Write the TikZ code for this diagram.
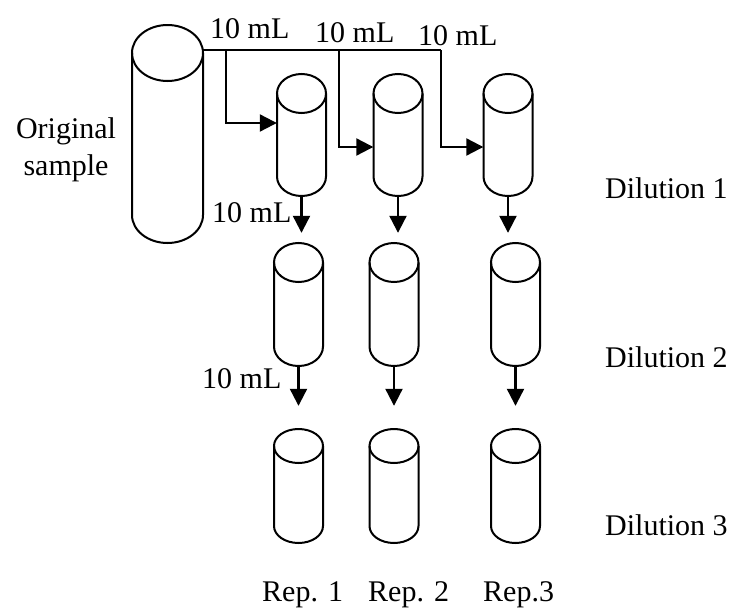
\documentclass[tikz,border=0pt]{standalone}
\usepackage{fontspec}
\setmainfont{Liberation Serif}
\usetikzlibrary{arrows.meta}
\tikzset{
  tubeline/.style={line width=2pt},
  conn/.style={line width=2.2pt},
  arr/.style={conn,-{Triangle[length=17pt,width=17pt]}},
  lbl/.style={inner sep=0pt,font=\fontsize{30}{37}\selectfont},
}
% name, cx, ytop, ybot, rx, ry
\newcommand\tube[6]{%
  \node[inner sep=0pt,minimum width={2*#5 pt},minimum height={(#4-#3)*1pt}] (#1) at (#2,{(#3+#4)/2}) {};
  \draw[tubeline] (#2,#3+#6) ellipse [x radius=#5pt, y radius=#6pt];
  \draw[tubeline] (#2-#5,#3+#6) -- (#2-#5,#4-#6)
    arc[start angle=180,end angle=360,x radius=#5pt,y radius=#6pt] -- (#2+#5,#3+#6);
}
\begin{document}
\begin{tikzpicture}[x=1pt,y=-1pt]
\useasboundingbox (0,0) rectangle (737,608);
% original sample
\tube{big}{167.5}{25}{243}{35.5}{28}
% dilution 1
\tube{t11}{301.5}{74}{196}{24.5}{19.5}
\tube{t12}{398}{74}{196}{24.5}{19.5}
\tube{t13}{508}{74}{196}{24.5}{19.5}
% dilution 2
\tube{t21}{298.5}{243}{366}{24.5}{19.5}
\tube{t22}{394}{243}{366}{24.5}{19.5}
\tube{t23}{515.5}{243}{366}{24.5}{19.5}
% dilution 3
\tube{t31}{298.5}{429}{543}{24.5}{17}
\tube{t32}{394}{429}{543}{24.5}{17}
\tube{t33}{515.5}{429}{543}{24.5}{17}
% distribution lines
\coordinate (src) at (big.east |- 0,50);
\coordinate (b1) at (226,50);
\coordinate (b2) at (339,50);
\coordinate (b3) at (441,50);
\draw[conn] (src) -- (b3);
\draw[arr] (b1) |- (t11.west |- 0,123);
\draw[arr] (b2) |- (t12.west |- 0,147);
\draw[arr] (b3) |- (t13.west |- 0,147);
% serial dilution arrows
\draw[arr,shorten >=10pt] (t11.south) -- (t11.south |- t21.north);
\draw[arr,shorten >=10pt] (t12.south) -- (t12.south |- t22.north);
\draw[arr,shorten >=10pt] (t13.south) -- (t13.south |- t23.north);
\draw[arr,shorten >=23pt] (t21.south) -- (t21.south |- t31.north);
\draw[arr,shorten >=23pt] (t22.south) -- (t22.south |- t32.north);
\draw[arr,shorten >=23pt] (t23.south) -- (t23.south |- t33.north);
% labels
\node[lbl,anchor=base west] (v1) at (210,38) {10 mL};
\node[lbl,anchor=base west] (v2) at (315,42) {10 mL};
\node[lbl,anchor=base west] (v3) at (418,45) {10 mL};
\node[lbl,anchor=base west] (v4) at (212,222) {10 mL};
\node[lbl,anchor=base west] (v5) at (202,388) {10 mL};
\node[lbl,align=center] (orig) at (66,150) {Original\\sample};
\node[lbl,anchor=base west] (d1) at (605,198) {Dilution 1};
\node[lbl,anchor=base west] (d2) at (605,367) {Dilution 2};
\node[lbl,anchor=base west] (d3) at (605,535) {Dilution 3};
\node[lbl,anchor=base west] (r1) at (262,601) {Rep. 1};
\node[lbl,anchor=base west] (r2) at (368,601) {Rep. 2};
\node[lbl,anchor=base west] (r3) at (483,601) {Rep.3};
\end{tikzpicture}
\end{document}
